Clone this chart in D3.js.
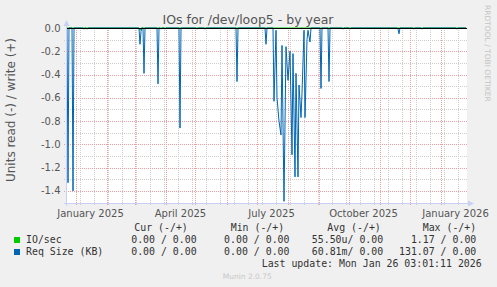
<!DOCTYPE html>
<html>
<head>
<meta charset="utf-8">
<script src="https://cdn.jsdelivr.net/npm/d3@7"></script>
<style>
  html, body { margin: 0; padding: 0; background: #f0f0f0; }
  svg { display: block; }
  text { font-family: "DejaVu Sans", sans-serif; }
  .mono { font-family: "DejaVu Sans Mono", monospace; white-space: pre; }
</style>
</head>
<body>
<script>
  // read side (negative) of the Req Size series, one point per day
  let readDates = [
    "2024-12-23", "2024-12-24", "2024-12-25",
    "2024-12-28", "2024-12-29", "2024-12-30",
    "2025-01-08", "2025-01-09", "2025-01-10",
    "2025-01-11", "2025-01-12", "2025-01-13",
    "2025-03-05", "2025-03-06", "2025-03-07", "2025-03-08",
    "2025-03-09", "2025-03-10", "2025-03-11",
    "2025-03-23", "2025-03-24", "2025-03-25",
    "2025-03-26", "2025-03-27", "2025-03-28",
    "2025-03-30", "2025-03-31", "2025-04-01",
    "2025-04-14", "2025-04-15", "2025-04-16",
    "2025-05-01", "2025-05-02", "2025-05-03",
    "2025-05-09", "2025-05-10", "2025-05-11",
    "2025-06-10", "2025-06-11", "2025-06-12",
    "2025-07-09", "2025-07-10", "2025-07-11",
    "2025-07-17", "2025-07-18", "2025-07-20", "2025-07-21", "2025-07-23",
    "2025-07-25", "2025-07-26", "2025-07-28", "2025-07-30", "2025-08-01",
    "2025-08-03", "2025-08-05", "2025-08-06", "2025-08-08", "2025-08-09",
    "2025-08-11", "2025-08-12", "2025-08-14", "2025-08-15", "2025-08-17",
    "2025-08-18", "2025-08-20", "2025-08-21", "2025-08-23", "2025-08-24",
    "2025-09-02", "2025-09-03", "2025-09-04",
    "2025-09-10", "2025-09-11", "2025-09-12",
    "2025-09-24", "2025-09-25", "2025-09-26",
    "2025-10-01", "2025-10-02", "2025-10-03",
    "2025-11-18", "2025-11-19", "2025-11-20", "2025-11-21",
    "2025-12-04", "2025-12-05", "2025-12-06",
    "2025-12-12", "2025-12-13", "2025-12-14",
    "2026-01-16", "2026-01-17", "2026-01-18",
    "2026-01-26"
  ];
  let readValues = [
    0, -1.33, 0,
    0, -1.40, 0,
    0, -0.01, 0,
    0, -0.01, 0,
    0, -0.14, -0.03, 0,
    0, -0.39, 0,
    0, -0.48, 0,
    0, -0.01, 0,
    0, -0.01, 0,
    0, -0.86, 0,
    0, -0.01, 0,
    0, -0.01, 0,
    0, -0.46, 0,
    0, -0.14, 0,
    0, -0.63, -0.02, -0.60, -0.80,
    -0.92, -0.15, -1.49, -0.16, -0.45,
    -0.20, -1.09, -0.22, -1.28, -0.39,
    -1.28, -0.49, -0.77, -0.56, -0.02,
    -0.77, -0.10, -0.02, -0.12, 0,
    0, -0.52, 0,
    0, -0.46, 0,
    0, -0.01, 0,
    0, -0.01, 0,
    0, -0.01, -0.05, 0,
    0, -0.01, 0,
    0, -0.01, 0,
    0, -0.01, 0,
    0
  ];

  // IO/sec read side, almost flat at zero
  let ioDates = ["2024-12-23", "2025-03-05", "2025-03-06", "2025-03-07", "2026-01-26"];
  let ioValues = [0, 0, -0.02, 0, 0];

  let yTicks = [0, -0.2, -0.4, -0.6, -0.8, -1.0, -1.2, -1.4];
  let yTickLabels = ["0.0", "-0.2", "-0.4", "-0.6", "-0.8", "-1.0", "-1.2", "-1.4"];
  let yMinor = [-0.1, -0.3, -0.5, -0.7, -0.9, -1.1, -1.3];

  let xLabelMonths = ["2025-01-01", "2025-04-01", "2025-07-01", "2025-10-01", "2026-01-01"];
  let xLabels = ["January 2025", "April 2025", "July 2025", "October 2025", "January 2026"];

  let legendNames = ["IO/sec", "Req Size (KB)"];
  let legendColors = ["#00cc00", "#0066b3"];
  let curVals = ["0.00 / 0.00", "0.00 / 0.00"];
  let minVals = ["0.00 / 0.00", "0.00 / 0.00"];
  let avgVals = ["55.50u/ 0.00", "60.81m/ 0.00"];
  let maxVals = ["1.17 / 0.00", "131.07 / 0.00"];

(function() {
  let width = 497, height = 287;
  let plotLeft = 67, plotRight = 467, plotTop = 28, plotBottom = 202.5;

  let parse = d3.timeParse("%Y-%m-%d");
  let noon = (s) => d3.timeHour.offset(parse(s), 12);

  let svg = d3.select("body").append("svg")
    .attr("width", width)
    .attr("height", height);

  svg.append("rect")
    .attr("width", width).attr("height", height)
    .attr("fill", "#f0f0f0");

  let tStart = new Date(2024, 11, 23, 12);
  let tEnd = new Date(2026, 0, 27, 12);
  let x = d3.scaleTime().domain([tStart, tEnd]).range([plotLeft, plotRight]);
  let y = d3.scaleLinear().domain([-1.5, 0]).range([plotBottom, plotTop]);

  // canvas
  svg.append("rect")
    .attr("x", plotLeft).attr("y", plotTop)
    .attr("width", plotRight - plotLeft).attr("height", 203 - plotTop)
    .attr("fill", "#ffffff");

  let grid = svg.append("g").attr("shape-rendering", "crispEdges");
  let px = (v) => Math.round(v) + 0.5;

  // minor grid
  let weeks = d3.timeSunday.range(new Date(2024, 11, 22), tEnd, 2)
    .filter((d) => d > tStart);
  grid.selectAll(".vminor").data(weeks).enter().append("line")
    .attr("x1", (d) => px(x(d))).attr("x2", (d) => px(x(d)))
    .attr("y1", plotTop).attr("y2", 206)
    .attr("stroke", "#cdcdcd").attr("stroke-dasharray", "1,1");
  grid.selectAll(".hminor").data(yMinor).enter().append("line")
    .attr("x1", 64).attr("x2", plotRight)
    .attr("y1", (d) => px(y(d))).attr("y2", (d) => px(y(d)))
    .attr("stroke", "#cdcdcd").attr("stroke-dasharray", "1,1");

  // major grid
  let months = d3.timeMonth.range(tStart, tEnd);
  grid.selectAll(".vmajor").data(months).enter().append("line")
    .attr("x1", (d) => px(x(d))).attr("x2", (d) => px(x(d)))
    .attr("y1", plotTop).attr("y2", 206)
    .attr("stroke", "#eaa0a0").attr("stroke-dasharray", "1,1");
  grid.selectAll(".hmajor").data(yTicks.slice(1)).enter().append("line")
    .attr("x1", 64).attr("x2", plotRight)
    .attr("y1", (d) => px(y(d))).attr("y2", (d) => px(y(d)))
    .attr("stroke", "#eaa0a0").attr("stroke-dasharray", "1,1");

  // data lines
  let line = d3.line()
    .x((d) => x(d[0]))
    .y((d) => y(d[1]));

  let ioData = ioDates.map((d, i) => [noon(d), ioValues[i]]);
  let readData = readDates.map((d, i) => [noon(d), readValues[i]]);

  svg.append("path")
    .datum(ioData)
    .attr("fill", "none")
    .attr("stroke", legendColors[0])
    .attr("stroke-width", 1)
    .attr("d", line);

  svg.append("path")
    .datum(readData)
    .attr("fill", "none")
    .attr("stroke", legendColors[1])
    .attr("stroke-width", 1)
    .attr("d", line);

  // zero line
  svg.append("line")
    .attr("x1", plotLeft).attr("x2", plotRight)
    .attr("y1", px(y(0))).attr("y2", px(y(0)))
    .attr("stroke", "#000").attr("shape-rendering", "crispEdges");

  // axes with arrows
  let axisColor = "#c9cff5";
  svg.append("line")
    .attr("x1", 64).attr("x2", 470)
    .attr("y1", 203.5).attr("y2", 203.5)
    .attr("stroke", axisColor).attr("shape-rendering", "crispEdges");
  svg.append("line")
    .attr("x1", 66.5).attr("x2", 66.5)
    .attr("y1", 206).attr("y2", 24)
    .attr("stroke", axisColor).attr("shape-rendering", "crispEdges");
  svg.append("path")
    .attr("d", "M468,200.5 L474,203.5 L468,206.5 Z")
    .attr("fill", axisColor);
  svg.append("path")
    .attr("d", "M63.5,26 L66.5,20 L69.5,26 Z")
    .attr("fill", axisColor);

  // y tick labels
  svg.selectAll(".ylab").data(yTicks).enter().append("text")
    .attr("x", 60.5)
    .attr("y", (d) => y(d) + 3.6)
    .attr("text-anchor", "end")
    .attr("font-size", "10px")
    .attr("fill", "#555")
    .text((d, i) => yTickLabels[i]);

  // x labels centred in the middle of their month
  svg.selectAll(".xlab").data(xLabelMonths).enter().append("text")
    .attr("x", (d) => x(d3.timeDay.offset(parse(d), 15)))
    .attr("y", 216.6)
    .attr("text-anchor", "middle")
    .attr("font-size", "10px")
    .attr("fill", "#555")
    .text((d, i) => xLabels[i]);

  // title
  svg.append("text")
    .attr("x", 248).attr("y", 23.5)
    .attr("text-anchor", "middle")
    .attr("font-size", "12.5px")
    .attr("fill", "#555")
    .text("IOs for /dev/loop5 - by year");

  // vertical label
  svg.append("text")
    .attr("transform", "translate(14.5, 110)rotate(-90)")
    .attr("text-anchor", "middle")
    .attr("font-size", "12px")
    .attr("fill", "#555")
    .text("Units read (-) / write (+)");

  svg.append("text")
    .attr("transform", "translate(485, 5)rotate(90)")
    .attr("font-size", "7.5px")
    .attr("fill", "#c4c4c4")
    .text("RRDTOOL / TOBI OETIKER");

  // legend
  let mono = (xx, yy, s, anchor) => svg.append("text")
    .attr("class", "mono")
    .attr("x", xx).attr("y", yy)
    .attr("text-anchor", anchor || "start")
    .attr("font-size", "9.9px")
    .attr("fill", "#333")
    .text(s);

  mono(134.3, 230.5, "Cur (-/+)");
  mono(230.7, 230.5, "Min (-/+)");
  mono(327.3, 230.5, "Avg (-/+)");
  mono(422.7, 230.5, "Max (-/+)");

  legendNames.forEach((name, i) => {
    let yy = 242.7 + i * 12;
    svg.append("rect")
      .attr("x", 14).attr("y", 237 + i * 12)
      .attr("width", 6).attr("height", 6)
      .attr("fill", legendColors[i]);
    mono(26, yy, name);
    mono(196.6, yy, curVals[i], "end");
    mono(289.5, yy, minVals[i], "end");
    mono(383.2, yy, avgVals[i], "end");
    mono(476.3, yy, maxVals[i], "end");
  });

  mono(261.7, 266.8, "Last update: Mon Jan 26 03:01:11 2026");

  svg.append("text")
    .attr("x", 222.7).attr("y", 279)
    .attr("font-size", "7.5px")
    .attr("fill", "#c8c8c8")
    .text("Munin 2.0.75");
})();
</script>
</body>
</html>
